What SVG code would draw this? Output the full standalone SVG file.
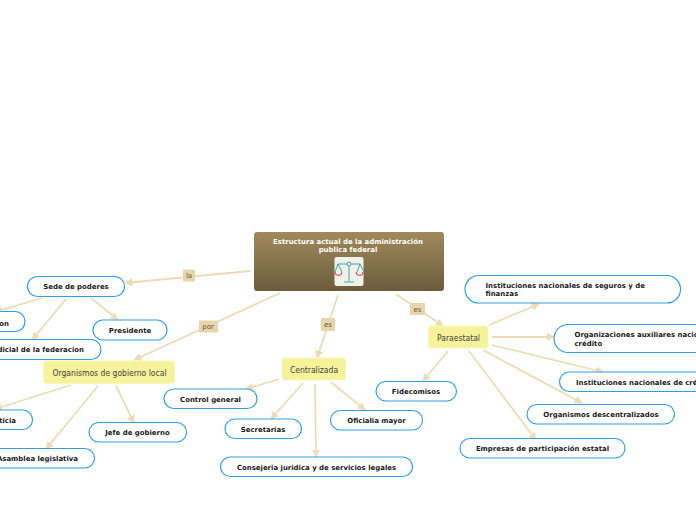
<svg xmlns="http://www.w3.org/2000/svg" width="696" height="520" viewBox="0 0 696 520">
<style>
.b{fill:#fff;stroke:#2f9fe6;stroke-width:1.2}
.t{font:bold 6.950px "DejaVu Sans",Verdana,sans-serif;fill:#1a1a1a}
.y{fill:#f5f29a;stroke:#f9f6c0;stroke-width:1}
.m{font:8.500px "DejaVu Sans Condensed","DejaVu Sans",sans-serif;fill:#444}
.c{stroke:#eedcb6;stroke-width:1.800;fill:none;marker-end:url(#a)}
.l{fill:#e8d5a8}
.lt{font:7px "DejaVu Sans",sans-serif;fill:#5a5a50;text-anchor:middle}
</style>
<defs>
<linearGradient id="g" x1="0" y1="0" x2="0" y2="1"><stop offset="0" stop-color="#a08a5c"/><stop offset="1" stop-color="#6c5c3c"/></linearGradient>
<marker id="a" viewBox="0 0 10 10" refX="9" refY="5" markerWidth="4.500" markerHeight="4.500" orient="auto"><path d="M0 0L10 5L0 10Z" fill="#eedcb6"/></marker>
</defs>
<g id="connectors">
<path class="c" d="M250 271L125 283"/>
<path class="c" d="M280 293L134 360"/>
<path class="c" d="M338 295L317 358"/>
<path class="c" d="M396 294L443 326"/>
<path class="c" d="M42 298L-5 312"/>
<path class="c" d="M66 299L32 340"/>
<path class="c" d="M91 298L118 320"/>
<path class="c" d="M71 385L-5 409"/>
<path class="c" d="M98 386L46 449"/>
<path class="c" d="M116 386L134 423"/>
<path class="c" d="M279 379L246 389"/>
<path class="c" d="M303 383L271 419"/>
<path class="c" d="M315 384L316 457"/>
<path class="c" d="M331 382L365 410"/>
<path class="c" d="M448 351L423 381"/>
<path class="c" d="M469 351L536 440"/>
<path class="c" d="M483 350L582 403"/>
<path class="c" d="M492 345L603 372"/>
<path class="c" d="M492 337L554 337"/>
<path class="c" d="M489 325L539 304"/>
</g>
<g id="l1"><rect class="l" x="183" y="269.500" width="12" height="12" rx="1"/><text class="lt" x="189" y="278">la</text></g>
<g id="l2"><rect class="l" x="199" y="320.500" width="19" height="12" rx="1"/><text class="lt" x="208" y="329">por</text></g>
<g id="l3"><rect class="l" x="321" y="318" width="14" height="13" rx="1"/><text class="lt" x="328" y="327">es</text></g>
<g id="l4"><rect class="l" x="410" y="303" width="15" height="12" rx="1"/><text class="lt" x="417.500" y="311.500">es</text></g>
<g id="root"><rect x="254" y="232" width="190" height="59" rx="3" fill="url(#g)"/>
<text x="348" y="244" text-anchor="middle" style="font:bold 6.950px 'DejaVu Sans',sans-serif;fill:#fff">Estructura actual de la administración</text>
<text x="348" y="252" text-anchor="middle" style="font:bold 6.950px 'DejaVu Sans',sans-serif;fill:#fff">publica federal</text>
<rect x="334.500" y="257" width="29" height="29" rx="2" fill="#f1f0ea"/>
<path d="M349 263V281M344 282H354M338 264H360M338 264L335 272M338 264L342 272M360 264L357 272M360 264L364 272" stroke="#3aa99a" stroke-width="1" fill="none"/>
<circle cx="349" cy="264" r="2" fill="#f1f0ea" stroke="#3aa99a"/>
<path d="M335 272A3.500 3.500 0 0 0 342 272M356 272A3.500 3.500 0 0 0 363 272" stroke="#d8324e" fill="none"/>
</g>
<g id="sede"><rect class="b" x="27.500" y="276.500" width="97" height="20" rx="10"/><text class="t" x="76" y="289" text-anchor="middle">Sede de poderes</text></g>
<g id="n-on"><rect class="b" x="-40" y="311.500" width="65" height="20" rx="10"/><text class="t" x="9" y="326" text-anchor="end">on</text></g>
<g id="presidente"><rect class="b" x="93" y="320" width="74" height="20" rx="10"/><text class="t" x="130" y="333" text-anchor="middle">Presidente</text></g>
<g id="judicial"><rect class="b" x="-60" y="339.500" width="161" height="20" rx="10"/><text class="t" x="84" y="352" text-anchor="end">dicial de la federacion</text></g>
<g id="local"><rect class="y" x="43.500" y="361" width="131" height="22.500" rx="3"/><text class="m" x="109.500" y="375.500" text-anchor="middle">Organismos de gobierno local</text></g>
<g id="justicia"><rect class="b" x="-40" y="410" width="72.500" height="19.500" rx="9.700"/><text class="t" x="16" y="423" text-anchor="end">ticia</text></g>
<g id="asamblea"><rect class="b" x="-30" y="448.500" width="124.500" height="19.500" rx="9.700"/><text class="t" x="78" y="461" text-anchor="end">Asamblea legislativa</text></g>
<g id="jefe"><rect class="b" x="89" y="422.500" width="97.500" height="19.500" rx="9.700"/><text class="t" x="137.500" y="435" text-anchor="middle">Jefe de gobierno</text></g>
<g id="centralizada"><rect class="y" x="282" y="358" width="63.500" height="22" rx="3"/><text class="m" x="314" y="372.500" text-anchor="middle">Centralizada</text></g>
<g id="control"><rect class="b" x="164" y="389" width="93" height="19.500" rx="9.700"/><text class="t" x="210.500" y="402" text-anchor="middle">Control general</text></g>
<g id="secretarias"><rect class="b" x="225" y="419" width="76.500" height="19.500" rx="9.700"/><text class="t" x="263" y="432" text-anchor="middle">Secretarias</text></g>
<g id="oficialia"><rect class="b" x="330.500" y="410.500" width="92" height="19.500" rx="9.700"/><text class="t" x="376.500" y="423" text-anchor="middle">Oficialia mayor</text></g>
<g id="consejeria"><rect class="b" x="220.500" y="457" width="192" height="19.500" rx="9.700"/><text class="t" x="316.500" y="470" text-anchor="middle">Consejeria juridica y de servicios legales</text></g>
<g id="paraestatal"><rect class="y" x="428.500" y="326" width="59.500" height="22" rx="3"/><text class="m" x="458.500" y="340.500" text-anchor="middle">Paraestatal</text></g>
<g id="fidecomisos"><rect class="b" x="376" y="381.500" width="80.500" height="19.500" rx="9.700"/><text class="t" x="416" y="394" text-anchor="middle">Fidecomisos</text></g>
<g id="empresas"><rect class="b" x="460" y="438.500" width="165" height="19.500" rx="9.700"/><text class="t" x="542.500" y="451" text-anchor="middle">Empresas de participación estatal</text></g>
<g id="descentral"><rect class="b" x="527" y="404.500" width="147.500" height="19.500" rx="9.700"/><text class="t" x="601" y="417" text-anchor="middle">Organismos descentralizados</text></g>
<g id="credito"><rect class="b" x="559.500" y="372" width="170" height="19.500" rx="9.700"/><text class="t" x="576" y="385">Instituciones nacionales de crédito</text></g>
<g id="auxiliares"><rect class="b" x="554" y="324.500" width="190" height="28" rx="14"/><text class="t" x="574.500" y="337">Organizaciones auxiliares nacionales de</text><text class="t" x="574.500" y="346">crédito</text></g>
<g id="seguros"><rect class="b" x="465" y="275.500" width="215.500" height="27.500" rx="13.700"/><text class="t" x="485.500" y="288">Instituciones nacionales de seguros y de</text><text class="t" x="485.500" y="296">finanzas</text></g>
</svg>
